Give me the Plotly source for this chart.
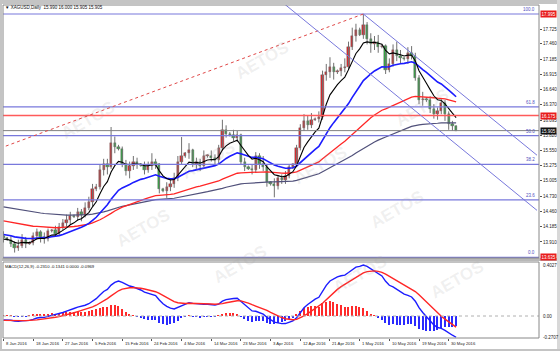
import plotly.graph_objects as go

W, H = 560, 351

# ---------------- data ----------------
OPEN = [14.02,13.98,13.95,13.88,13.80,13.84,13.95,13.88,13.90,14.02,14.08,14.00,13.96,14.10,14.12,14.05,14.18,14.25,14.30,14.38,
        14.36,14.45,14.40,14.52,14.62,14.85,14.90,15.20,15.30,15.25,15.68,15.62,15.58,15.30,15.18,15.28,15.35,15.30,15.28,15.20,
        15.28,15.35,15.30,14.85,14.82,14.90,14.95,15.05,15.35,15.45,15.50,15.55,15.30,15.35,15.28,15.45,15.45,15.42,15.38,15.60,
        15.92,15.85,15.82,15.78,15.82,15.35,15.25,15.22,15.20,15.45,15.30,15.25,14.98,14.95,14.92,15.05,15.02,15.10,15.25,15.30,
        15.60,15.95,16.08,16.00,16.10,16.12,16.15,16.90,16.95,17.05,16.95,16.98,17.02,17.05,17.40,17.60,17.70,17.62,17.80,17.55,
        17.45,17.50,17.40,17.42,17.00,17.10,17.35,17.25,17.20,17.18,17.30,17.25,16.85,16.45,16.48,16.45,16.30,16.20,16.25,16.40,
        16.20,16.02,15.990]
HIGH = [14.10,14.00,14.02,13.92,13.95,14.05,14.00,13.92,14.08,14.15,14.12,14.08,14.15,14.14,14.20,14.25,14.32,14.40,14.45,14.40,
        14.52,14.50,14.62,14.72,14.95,14.95,15.30,15.40,15.40,15.97,15.80,15.65,15.62,15.38,15.35,15.45,15.42,15.32,15.35,15.35,
        15.50,15.40,15.32,14.88,14.98,15.05,15.15,15.45,15.79,15.52,15.68,15.58,15.42,15.40,15.55,15.48,15.55,15.48,15.65,16.10,
        16.00,15.88,15.92,15.90,15.85,15.42,15.28,15.30,15.52,15.50,15.45,15.30,15.00,15.05,15.10,15.12,15.18,15.30,15.32,15.65,
        16.02,16.20,16.18,16.22,16.14,16.25,16.98,17.10,17.22,17.12,17.00,17.10,17.20,17.50,17.75,17.82,17.75,17.995,17.85,17.65,
        17.60,17.62,17.45,17.45,17.20,17.45,17.50,17.35,17.22,17.40,17.42,17.30,16.90,16.60,16.50,16.52,16.38,16.32,16.48,16.45,
        16.25,16.08,16.000]
LOW = [13.90,13.93,13.82,13.72,13.75,13.80,13.80,13.86,13.85,13.95,13.90,13.88,13.92,14.08,14.00,14.02,14.12,14.18,14.22,14.34,
       14.30,14.28,14.35,14.48,14.55,14.82,14.85,15.10,15.12,15.22,15.50,15.55,15.25,15.10,15.05,15.20,15.22,15.26,15.12,15.15,
       15.20,15.22,14.78,14.80,14.70,14.82,14.88,15.00,15.30,15.42,15.40,15.25,15.22,15.18,15.25,15.42,15.35,15.30,15.32,15.55,
       15.78,15.80,15.72,15.70,15.30,15.18,15.20,15.12,15.15,15.22,15.18,14.90,14.92,14.71,14.85,14.95,14.95,15.05,15.22,15.25,
       15.55,15.90,15.92,15.95,16.08,16.05,16.10,16.80,16.85,16.82,16.92,16.88,16.95,17.00,17.35,17.50,17.60,17.55,17.45,17.30,
       17.35,17.30,17.38,16.92,16.95,17.05,17.15,17.10,17.16,17.10,17.18,16.80,16.38,16.35,16.42,16.22,16.12,16.10,16.20,16.08,
       15.92,15.90,15.905]
CLOSE = [13.98,13.95,13.88,13.80,13.84,13.95,13.88,13.90,14.02,14.08,14.00,13.96,14.10,14.12,14.05,14.18,14.25,14.30,14.38,14.36,
         14.45,14.40,14.52,14.62,14.85,14.90,15.20,15.30,15.25,15.68,15.62,15.58,15.30,15.18,15.28,15.35,15.30,15.28,15.20,15.28,
         15.35,15.30,14.85,14.82,14.90,14.95,15.05,15.35,15.45,15.50,15.55,15.30,15.35,15.28,15.45,15.45,15.42,15.38,15.60,15.92,
         15.85,15.82,15.78,15.82,15.35,15.25,15.22,15.20,15.45,15.30,15.25,14.98,14.95,14.92,15.05,15.02,15.10,15.25,15.30,15.60,
         15.95,16.08,16.00,16.10,16.12,16.15,16.90,16.95,17.05,16.95,16.98,17.02,17.05,17.40,17.60,17.70,17.62,17.80,17.55,17.45,
         17.50,17.40,17.42,17.00,17.10,17.35,17.25,17.20,17.18,17.30,17.25,16.85,16.45,16.48,16.45,16.30,16.20,16.25,16.40,16.20,
         16.02,15.99,15.905]

DATE_LABELS = ["8 Jan 2016","18 Jan 2016","27 Jan 2016","5 Feb 2016","15 Feb 2016","24 Feb 2016","4 Mar 2016",
               "14 Mar 2016","23 Mar 2016","3 Apr 2016","12 Apr 2016","21 Apr 2016","1 May 2016","10 May 2016",
               "19 May 2016","30 May 2016"]
DATE_BARS = [0,8,16,24,32,40,48,56,64,72,80,88,96,104,112,120]

PRICE_TICKS = [17.725,17.460,17.185,16.915,16.640,16.370,16.095,15.820,15.550,15.275,15.005,14.730,14.460,14.185,13.910]
PRICE_TICK_TEXT = ["17.725","17.460","17.185","16.915","16.640","16.370","16.095","15.820","15.550","15.275",
                   "15.005","14.730","14.460","14.185","13.910"]

FIB_HIGH, FIB_LOW = 17.995, 13.635
FIB_LEVELS = [100.0, 61.8, 50.0, 38.2, 23.6, 0.0]
FIB_TEXT = ["100.0", "61.8", "50.0", "38.2", "23.6", "0.0"]
RED_LEVEL = 16.175
BID = 15.905

# moving averages: (period, value just before first bar, colour, width)
MA_SPECS = [(100, 14.55, "#50507a", 1.2), (55, 14.30, "#ff2626", 1.3), (21, 14.05, "#1c1cff", 1.6), (7, 13.95, "#000000", 1.1)]
MACD_SEEDS = (13.97, 14.02, -0.05)   # ema12, ema26, signal before first bar

# ---------------- geometry ----------------
PX0, PX1 = 3, 539
MAIN_T, MAIN_B = 5, 258
MACD_T, MACD_B = 262, 338
ZERO_PX = 316
def px(x): return x / W
def py(y): return 1 - y / H
Y_TOP = 17.995 - (MAIN_T - 14) / 55.8
Y_BOT = 17.995 - (MAIN_B - 14) / 55.8
BAR_W = 3.71
X_LEFT = -(0.5) / BAR_W
X_RIGHT = (PX1 - 3.5) / BAR_W

N = len(CLOSE)
idx = list(range(N))

def ema(vals, n, seed):
    a = 2.0 / (n + 1)
    e = seed
    out = []
    for v in vals:
        e = e + a * (v - e)
        out.append(e)
    return out

fig = go.Figure()

# wicks
wx, wy = [], []
for i in idx:
    wx += [i, i, None]
    wy += [LOW[i], HIGH[i], None]
fig.add_trace(go.Scatter(x=wx, y=wy, mode="lines", line=dict(color="#707070", width=1),
                         hoverinfo="skip", showlegend=False, xaxis="x", yaxis="y"))
# bodies
base = [min(o, c) for o, c in zip(OPEN, CLOSE)]
hgt = [max(abs(c - o), 0.012) for o, c in zip(OPEN, CLOSE)]
cols = ["#e3262b" if c >= o else "#2fb040" for o, c in zip(OPEN, CLOSE)]
fig.add_trace(go.Bar(x=idx, y=hgt, base=base, width=0.62, marker=dict(color=cols, line=dict(width=0.4, color="#555555")),
                     showlegend=False, xaxis="x", yaxis="y"))

# moving averages
for per, seed, col, lw in MA_SPECS:
    fig.add_trace(go.Scatter(x=idx, y=ema(CLOSE, per, seed), mode="lines", line=dict(color=col, width=lw),
                             showlegend=False, hoverinfo="skip", xaxis="x", yaxis="y"))

# fib lines
for lv, tx in zip(FIB_LEVELS, FIB_TEXT):
    p = FIB_LOW + (FIB_HIGH - FIB_LOW) * lv / 100.0
    fig.add_trace(go.Scatter(x=[X_LEFT, X_RIGHT], y=[p, p], mode="lines", line=dict(color="#7878dc", width=1.2),
                             showlegend=False, hoverinfo="skip", xaxis="x", yaxis="y"))
    fig.add_annotation(x=px(537), xref="paper", y=p, yref="y", text=tx, showarrow=False, xanchor="right",
                       yanchor="bottom", font=dict(size=4.5, color="#5050c0", family="Liberation Sans"))

fig.add_trace(go.Scatter(x=[X_LEFT, X_RIGHT], y=[RED_LEVEL, RED_LEVEL], mode="lines", line=dict(color="#ff5a5a", width=1.4),
                         showlegend=False, hoverinfo="skip", xaxis="x", yaxis="y"))
fig.add_trace(go.Scatter(x=[X_LEFT, X_RIGHT], y=[BID, BID], mode="lines", line=dict(color="#808080", width=1),
                         showlegend=False, hoverinfo="skip", xaxis="x", yaxis="y"))

# red dotted trendline to the high
fig.add_trace(go.Scatter(x=[-0.9, 97], y=[15.59, 17.995], mode="lines", line=dict(color="#e04848", width=1, dash="dot"),
                         showlegend=False, hoverinfo="skip", xaxis="x", yaxis="y"))
# channel lines
fig.add_trace(go.Scatter(x=[75.07, 143.8], y=[18.21, 14.476], mode="lines", line=dict(color="#7878dc", width=1),
                         showlegend=False, hoverinfo="skip", xaxis="x", yaxis="y"))
fig.add_trace(go.Scatter(x=[97, 143.8], y=[17.995, 15.464], mode="lines", line=dict(color="#7878dc", width=1),
                         showlegend=False, hoverinfo="skip", xaxis="x", yaxis="y"))

# MACD
e12 = ema(CLOSE, 12, MACD_SEEDS[0])
e26 = ema(CLOSE, 26, MACD_SEEDS[1])
macd = [a - b for a, b in zip(e12, e26)]
sig = ema(macd, 9, MACD_SEEDS[2])
hist = [m - s for m, s in zip(macd, sig)]
hcol = ["#ff2a2a" if h >= 0 else "#2a2aff" for h in hist]
fig.add_trace(go.Bar(x=idx, y=hist, width=0.38, marker=dict(color=hcol, line=dict(width=0)),
                     showlegend=False, xaxis="x2", yaxis="y2"))
fig.add_trace(go.Scatter(x=idx, y=macd, mode="lines", line=dict(color="#1c1cff", width=1.4),
                         showlegend=False, hoverinfo="skip", xaxis="x2", yaxis="y2"))
fig.add_trace(go.Scatter(x=idx, y=sig, mode="lines", line=dict(color="#ff2626", width=1.4),
                         showlegend=False, hoverinfo="skip", xaxis="x2", yaxis="y2"))
fig.add_trace(go.Scatter(x=[X_LEFT, X_RIGHT], y=[0, 0], mode="lines", line=dict(color="#b0b0b0", width=1, dash="dot"),
                         showlegend=False, hoverinfo="skip", xaxis="x2", yaxis="y2"))
mx = max(macd)
scale = (ZERO_PX - 265) / mx
m_top = (ZERO_PX - MACD_T) / scale
m_bot = -(MACD_B - ZERO_PX) / scale

# ---------------- layout ----------------
fig.update_layout(
    width=W, height=H, margin=dict(l=0, r=0, t=0, b=0, pad=0),
    paper_bgcolor="white", plot_bgcolor="white", bargap=0, barmode="overlay",
    xaxis=dict(domain=[px(PX0), px(PX1)], range=[X_LEFT, X_RIGHT], anchor="y", showticklabels=False,
               showgrid=False, zeroline=False, showline=False, ticks=""),
    xaxis2=dict(domain=[px(PX0), px(PX1)], range=[X_LEFT, X_RIGHT], anchor="y2", matches="x",
                tickvals=DATE_BARS, ticktext=[""] * len(DATE_BARS), ticks="outside", ticklen=2, tickcolor="#555",
                showgrid=False, zeroline=False, showline=False),
    yaxis=dict(domain=[py(MAIN_B), py(MAIN_T)], range=[Y_BOT, Y_TOP], side="right", anchor="x",
               tickvals=PRICE_TICKS, ticktext=PRICE_TICK_TEXT, ticks="outside", ticklen=2, tickcolor="#555",
               tickfont=dict(size=4.5, color="#222", family="Liberation Sans"), showgrid=False, zeroline=False),
    yaxis2=dict(domain=[py(MACD_B), py(MACD_T)], range=[m_bot, m_top], side="right", anchor="x2",
                showticklabels=False, showgrid=False, zeroline=False, ticks=""),
    font=dict(family="Liberation Sans", size=4.5, color="#222"),
)

# frame / bands
shapes = []
shapes.append(dict(type="rect", xref="paper", yref="paper", x0=0, x1=1, y0=py(4), y1=1, fillcolor="#c4c4c4", line=dict(width=0)))
shapes.append(dict(type="rect", xref="paper", yref="paper", x0=0, x1=px(2), y0=0, y1=1, fillcolor="#c4c4c4", line=dict(width=0)))
shapes.append(dict(type="rect", xref="paper", yref="paper", x0=px(557), x1=1, y0=0, y1=1, fillcolor="#d8d8d8", line=dict(width=0)))
shapes.append(dict(type="rect", xref="paper", yref="paper", x0=0, x1=1, y0=0, y1=py(349), fillcolor="#c4c4c4", line=dict(width=0)))
shapes.append(dict(type="rect", xref="paper", yref="paper", x0=px(2), x1=px(557), y0=py(261), y1=py(258), fillcolor="#b8b8b8", line=dict(width=0)))
shapes.append(dict(type="rect", xref="paper", yref="paper", x0=px(PX0), x1=px(PX1), y0=py(MAIN_B), y1=py(MAIN_T),
                   line=dict(color="#888888", width=1)))
shapes.append(dict(type="rect", xref="paper", yref="paper", x0=px(PX0), x1=px(PX1), y0=py(MACD_B), y1=py(MACD_T),
                   line=dict(color="#888888", width=1)))
fig.update_layout(shapes=shapes)

# boxed price labels
for val, txt, bg in [(17.995, "17.995", "#e81c1c"), (RED_LEVEL, "16.175", "#e81c1c"), (BID, "15.905", "#111111"), (13.635, "13.635", "#e81c1c")]:
    fig.add_annotation(x=px(539.5), xref="paper", y=val, yref="y", text=txt, showarrow=False, xanchor="left",
                       yanchor="middle", bgcolor=bg, borderpad=0.5, font=dict(size=4.5, color="white", family="Liberation Sans"))

# MACD scale labels
for yy, txt in [(265, "0.4027"), (ZERO_PX, "0.00"), (337, "-0.2707")]:
    fig.add_annotation(x=px(541), xref="paper", y=py(yy), yref="paper", text=txt, showarrow=False, xanchor="left",
                       yanchor="middle", font=dict(size=4.5, color="#222", family="Liberation Sans"))

# date labels
for b, t in zip(DATE_BARS, DATE_LABELS):
    fig.add_annotation(x=b, xref="x", y=py(343.5), yref="paper", text=t, showarrow=False, xanchor="left",
                       yanchor="middle", xshift=0.5, font=dict(size=4.2, color="#222", family="Liberation Sans"))

# headers
fig.add_annotation(x=px(3), xref="paper", y=py(7.5), yref="paper", text="▼ XAGUSD,Daily  15.990 16.000 15.905 15.905",
                   showarrow=False, xanchor="left", yanchor="middle", font=dict(size=4.5, color="#111", family="Liberation Sans"))
fig.add_annotation(x=px(3), xref="paper", y=py(266), yref="paper", text="MACD(12,26,9) -0.2310 -0.1341 0.0000 -0.0969",
                   showarrow=False, xanchor="left", yanchor="middle", font=dict(size=4.2, color="#111", family="Liberation Sans"))

# watermarks
for (wx_, wy_) in [(262, 35), (455, 82), (320, 165), (175, 160), (55, 95), (110, 228), (240, 290), (430, 235), (490, 305), (360, 300)]:
    fig.add_annotation(x=px(wx_), xref="paper", y=py(wy_), yref="paper", text="<b>AETOS</b>", showarrow=False,
                       textangle=-30, font=dict(size=17, color="rgba(160,160,160,0.16)", family="Liberation Sans"))

fig.write_html("out.html")
